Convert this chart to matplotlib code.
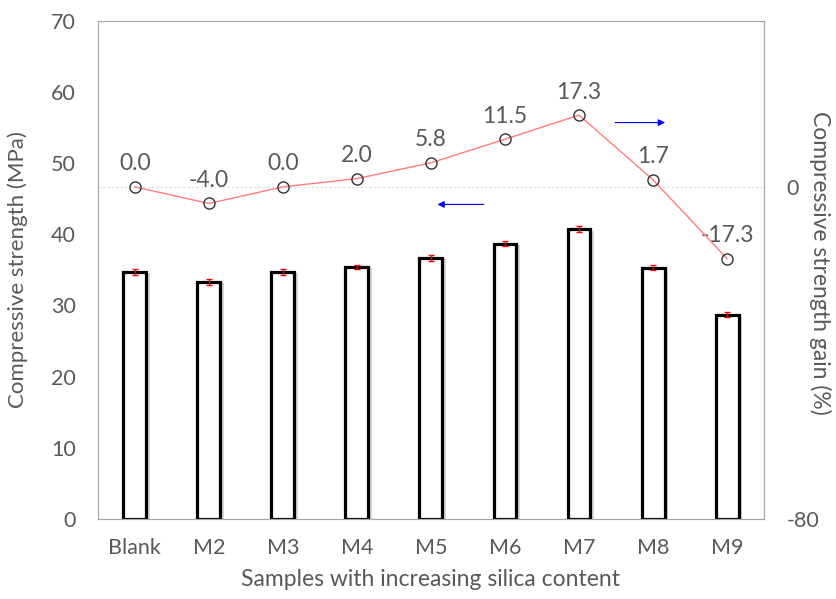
import numpy as np
import matplotlib.pyplot as plt
import matplotlib.patheffects as pe

plt.rcParams['font.family'] = ['Lato', 'DejaVu Sans']
plt.rcParams['axes.unicode_minus'] = False

# datos
muestras = ["Blank", "M2", "M3", "M4", "M5", "M6", "M7", "M8", "M9"]
resistencia = [34.7, 33.3, 34.7, 35.4, 36.7, 38.7, 40.7, 35.3, 28.7]
error = [0.4, 0.4, 0.4, 0.35, 0.4, 0.35, 0.4, 0.35, 0.4]
ganancia = [0.0, -4.0, 0.0, 2.0, 5.8, 11.5, 17.3, 1.7, -17.3]

gris = "#595959"
x = np.arange(len(muestras))

fig, ax = plt.subplots(figsize=(8.36, 5.99), dpi=100)
fig.subplots_adjust(left=0.117, right=0.914, top=0.965, bottom=0.134)

# barras con sombra
sombra = [pe.SimplePatchShadow(offset=(2.5, -1), shadow_rgbFace="#bbbbbb", alpha=0.6), pe.Normal()]
barras = ax.bar(x, resistencia, width=0.31, color="white", edgecolor="black",
                linewidth=2.3, zorder=2)
for b in barras:
    b.set_path_effects(sombra)
ax.errorbar(x, resistencia, yerr=error, fmt="none", ecolor="red",
            elinewidth=1, capsize=2.5, capthick=1, zorder=3)

ax.set_xlim(-0.5, len(muestras) - 0.5)
ax.set_ylim(0, 70)
ax.set_yticks(range(0, 71, 10))
ax.set_xticks(x)
ax.set_xticklabels(muestras)
ax.set_ylabel("Compressive strength (MPa)", fontsize=16, color=gris)
ax.yaxis.set_label_coords(-0.105, 0.5)
ax.set_xlabel("Samples with increasing silica content", fontsize=16.5, color=gris, labelpad=8)
ax.tick_params(axis="y", colors=gris, labelsize=15.5, length=0, pad=16)
ax.tick_params(axis="x", colors=gris, labelsize=15.5, length=0, pad=14)
for s in ax.spines.values():
    s.set_color("#a6a6a6")

# eje secundario: ganancia
ax2 = ax.twinx()
ax2.set_ylim(-80, 40)
ax2.set_yticks([-80, 0])
ax2.tick_params(colors=gris, labelsize=15.5, length=0, pad=16)
ax2.axhline(0, color="#d9d9d9", linestyle=(0, (2, 2)), linewidth=0.8, zorder=1)
ax2.plot(x, ganancia, color="#ff7c7c", linewidth=1, marker="o", markersize=8,
         markerfacecolor="none", markeredgecolor="#333333", markeredgewidth=1, zorder=4)
for xi, g in zip(x, ganancia):
    ax2.annotate(f"{g:.1f}", (xi, g), xytext=(0, 9), textcoords="offset points",
                 ha="center", va="bottom", fontsize=16.5, color=gris)
for s in ax2.spines.values():
    s.set_color("#a6a6a6")
ax2.set_ylabel("Compressive strength gain (%)", fontsize=16.5, color=gris, rotation=-90)
ax2.yaxis.set_label_coords(1.10, 0.515)

# flechas que indican el eje de cada serie
ax2.annotate("", xy=(7.2, 15.5), xytext=(6.45, 15.5),
             arrowprops=dict(arrowstyle="-|>", color="blue", lw=0.8, mutation_scale=10))
ax.annotate("", xy=(4.05, 44.2), xytext=(4.75, 44.2),
            arrowprops=dict(arrowstyle="-|>", color="blue", lw=0.8, mutation_scale=10))

fig.savefig("out.png", dpi=100)
